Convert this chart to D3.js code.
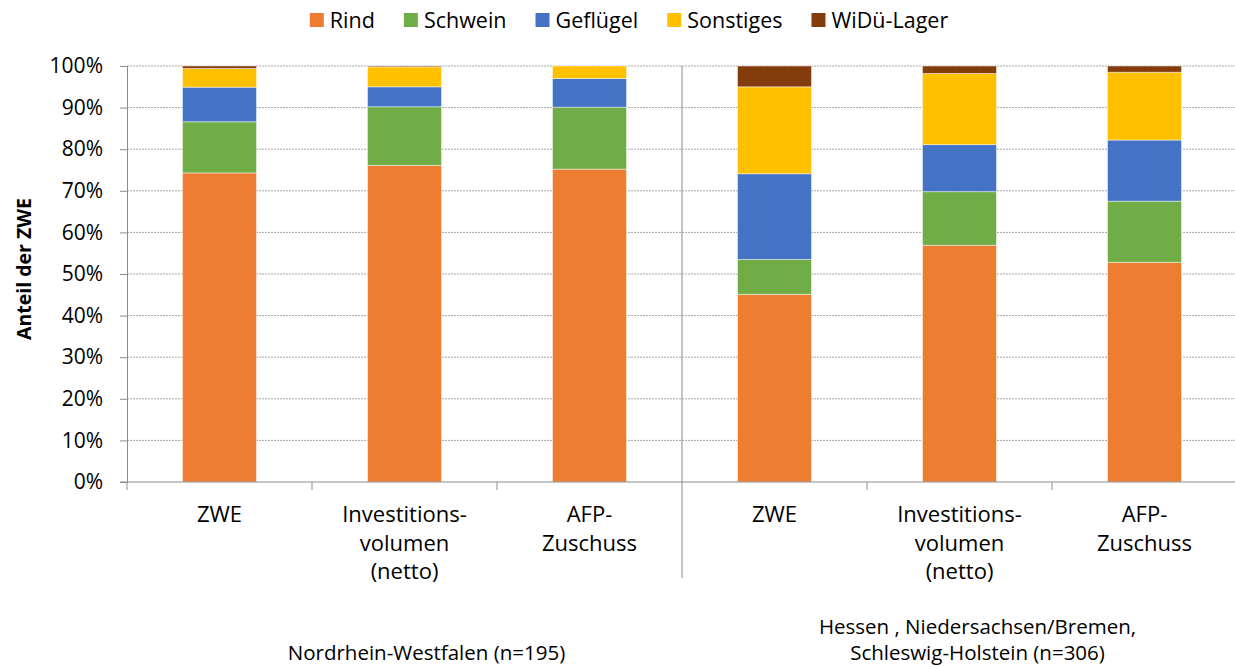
<!DOCTYPE html>
<html>
<head>
<meta charset="utf-8">
<script src="https://cdn.jsdelivr.net/npm/d3@7"></script>
<style>
  body { margin: 0; background: #fff; }
  text { font-family: "Open Sans", sans-serif; fill: #000; }
</style>
</head>
<body>
<div id="chart"></div>
<script>
const categories = [
  ['ZWE'],
  ['Investitions-', 'volumen', '(netto)'],
  ['AFP-', 'Zuschuss'],
  ['ZWE'],
  ['Investitions-', 'volumen', '(netto)'],
  ['AFP-', 'Zuschuss']
];
const groups = [
  ['Nordrhein-Westfalen (n=195)'],
  ['Hessen , Niedersachsen/Bremen,', 'Schleswig-Holstein (n=306)']
];
const seriesNames = ['Rind', 'Schwein', 'Geflügel', 'Sonstiges', 'WiDü-Lager'];
const rind      = [74.3, 76.1, 75.2, 45.1, 56.9, 52.8];
const schwein   = [12.3, 14.1, 14.9,  8.4, 12.9, 14.7];
const gefluegel = [ 8.3,  4.8,  6.9, 20.6, 11.3, 14.7];
const sonstiges = [ 4.5,  4.8,  3.0, 20.9, 17.1, 16.3];
const widue     = [ 0.6,  0.2,  0.0,  5.0,  1.8,  1.5];
const yTicks = [0, 10, 20, 30, 40, 50, 60, 70, 80, 90, 100];

const colors = ['#ED7D31', '#70AD47', '#4472C4', '#FFC000', '#843C0C'];

const width = 1235, height = 666;
const margin = {left: 127, top: 66, right: 0, bottom: 184};
const plotRight = 1237;
const plotBottom = height - margin.bottom;

let svg = d3.select('#chart').append('svg')
  .attr('width', width)
  .attr('height', height)

let x = d3.scaleBand()
  .domain(d3.range(categories.length))
  .range([margin.left, plotRight])
  .paddingInner(0.6)
  .paddingOuter(0.3)

let y = d3.scaleLinear()
  .domain([0, 100])
  .range([plotBottom, margin.top])

// gridlines
svg.append('g').selectAll('line').data(yTicks.slice(1))
  .enter().append('line')
    .attr('x1', margin.left)
    .attr('x2', plotRight)
    .attr('y1', d => y(d))
    .attr('y2', d => y(d))
    .attr('stroke', '#a6a6a6')
    .attr('stroke-width', 1)
    .attr('stroke-dasharray', '2,1')

// stacked bars
let rows = categories.map((c, i) => ({
  i: i,
  'Rind': rind[i], 'Schwein': schwein[i], 'Geflügel': gefluegel[i],
  'Sonstiges': sonstiges[i], 'WiDü-Lager': widue[i]
}))
let stacked = d3.stack().keys(seriesNames)(rows)

svg.append('g').selectAll('g').data(stacked)
  .enter().append('g')
    .attr('fill', (d, i) => colors[i])
  .selectAll('rect').data(d => d)
  .enter().append('rect')
    .attr('x', d => x(d.data.i))
    .attr('width', x.bandwidth())
    .attr('y', d => y(d[1]))
    .attr('height', d => y(d[0]) - y(d[1]))
    .attr('stroke', 'rgba(255,255,255,0.45)')
    .attr('stroke-width', 1)

// y axis
let yAxis = d3.axisLeft(y)
  .tickValues(yTicks)
  .tickFormat(d => d + '%')
  .tickSize(7)
  .tickPadding(17)
let ya = svg.append('g')
  .attr('transform', `translate(${margin.left},0)`)
  .call(yAxis)
ya.select('.domain').attr('stroke', '#8c8c8c')
ya.selectAll('.tick line').attr('stroke', '#8c8c8c')
ya.selectAll('.tick text')
  .style('font-size', '21px')
  .style('font-family', '"Open Sans", sans-serif')
  .attr('fill', '#000')

// x axis line and category boundary ticks
svg.append('line')
  .attr('x1', margin.left - 7).attr('x2', plotRight)
  .attr('y1', plotBottom).attr('y2', plotBottom)
  .attr('stroke', '#8c8c8c')

let step = x.step()
let bounds = d3.range(categories.length + 1).map(i => margin.left + i * step)
svg.append('g').selectAll('line').data(bounds)
  .enter().append('line')
    .attr('x1', d => d).attr('x2', d => d)
    .attr('y1', plotBottom)
    .attr('y2', (d, i) => i === 3 ? 578 : plotBottom + 8)
    .attr('stroke', '#8c8c8c')

// group separator through plot
svg.append('line')
  .attr('x1', bounds[3]).attr('x2', bounds[3])
  .attr('y1', margin.top).attr('y2', plotBottom)
  .attr('stroke', '#8c8c8c')

// category labels
svg.append('g').selectAll('text').data(categories)
  .enter().append('text')
    .attr('text-anchor', 'middle')
    .style('font-size', '22px')
    .each(function (lines, i) {
      d3.select(this).selectAll('tspan').data(lines)
        .enter().append('tspan')
          .attr('x', x(i) + x.bandwidth() / 2)
          .attr('y', (d, j) => 522 + j * 28.5)
          .text(d => d)
    })

// group labels
let groupX = [(bounds[0] + bounds[3]) / 2 + 22, (bounds[3] + bounds[6]) / 2 + 18]
groups.forEach((lines, g) => {
  let t = svg.append('text')
    .attr('text-anchor', 'middle')
    .style('font-size', '20.5px')
  lines.forEach((l, j) => {
    t.append('tspan')
      .attr('x', groupX[g])
      .attr('y', 660 - (lines.length - 1 - j) * 26)
      .text(l)
  })
})

// y axis title
svg.append('text')
  .attr('transform', `translate(31,${(margin.top + plotBottom) / 2 - 5}) rotate(-90)`)
  .attr('text-anchor', 'middle')
  .style('font-size', '19.5px')
  .style('font-weight', 'bold')
  .text('Anteil der ZWE')

// legend
let legend = svg.append('g')
let lx = 0
seriesNames.forEach((name, i) => {
  let item = legend.append('g').attr('transform', `translate(${lx},0)`)
  item.append('rect')
    .attr('x', 0).attr('y', 13)
    .attr('width', 14).attr('height', 14)
    .attr('fill', colors[i])
  let t = item.append('text')
    .attr('x', 20).attr('y', 28)
    .style('font-size', '21.5px')
    .text(name)
  lx += 20 + t.node().getComputedTextLength() + 29
})
let legendWidth = lx - 29
legend.attr('transform', `translate(${629 - legendWidth / 2},0)`)
</script>
</body>
</html>
